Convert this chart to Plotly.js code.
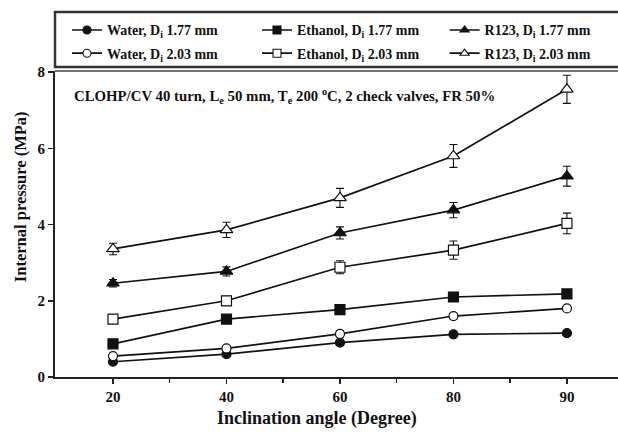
<!DOCTYPE html>
<html>
<head>
<meta charset="utf-8">
<script src="https://cdn.plot.ly/plotly-3.0.1.min.js"></script>
<style>html,body{margin:0;padding:0;background:#fff}#chart{width:618px;height:432px}</style>
</head>
<body>
<div id="chart"></div>
<script>
var angles = ["20", "40", "60", "80", "90"];
var waterSmall = [0.40, 0.60, 0.90, 1.12, 1.15];
var waterSmallErr = [0.05, 0.05, 0.06, 0.06, 0.06];
var waterLarge = [0.55, 0.75, 1.13, 1.60, 1.80];
var waterLargeErr = [0.05, 0.05, 0.08, 0.07, 0.07];
var ethanolSmall = [0.87, 1.52, 1.77, 2.10, 2.18];
var ethanolSmallErr = [0.06, 0.07, 0.08, 0.08, 0.08];
var ethanolLarge = [1.52, 2.00, 2.88, 3.33, 4.03];
var ethanolLargeErr = [0.08, 0.12, 0.17, 0.24, 0.27];
var r123Small = [2.46, 2.77, 3.78, 4.38, 5.27];
var r123SmallErr = [0.10, 0.12, 0.16, 0.20, 0.26];
var r123Large = [3.36, 3.86, 4.70, 5.80, 7.55];
var r123LargeErr = [0.15, 0.20, 0.25, 0.30, 0.37];
var names = [
  "Water, D<sub>i</sub> 1.77 mm", "Water, D<sub>i</sub> 2.03 mm",
  "Ethanol, D<sub>i</sub> 1.77 mm", "Ethanol, D<sub>i</sub> 2.03 mm",
  "R123, D<sub>i</sub> 1.77 mm", "R123, D<sub>i</sub> 2.03 mm"
];
var yTitle = "Internal pressure (MPa)";
var xTitle = "Inclination angle (Degree)";
var note = "CLOHP/CV 40 turn, L<sub>e</sub> 50 mm, T<sub>e</sub> 200 <sup>o</sup>C, 2 check valves, FR 50%";
var xIdx = angles.map(function(_, i){ return i; });

var ink = "#111";
function tr(y, err, symbol, filled, size) {
  return {
    x: xIdx, y: y, type: "scatter", mode: "lines+markers", showlegend: false,
    line: {color: ink, width: 1.7},
    marker: {symbol: symbol, size: size, color: filled ? ink : "#fff", line: {color: ink, width: 1.2}},
    error_y: {type: "data", array: err, visible: true, color: ink, thickness: 1.1, width: 4}
  };
}
function leg(name, symbol, filled, legendId, group) {
  return {
    x: [null], y: [null], type: "scatter", mode: "lines+markers", name: name,
    legend: legendId, legendgroup: group, showlegend: true,
    line: {color: ink, width: 1.7},
    marker: {symbol: symbol, size: 8, color: filled ? ink : "#fff", line: {color: ink, width: 1.1}}
  };
}
var data = [
  tr(waterSmall, waterSmallErr, "circle", true, 9),
  tr(waterLarge, waterLargeErr, "circle", false, 9),
  tr(ethanolSmall, ethanolSmallErr, "square", true, 10),
  tr(ethanolLarge, ethanolLargeErr, "square", false, 10),
  tr(r123Small, r123SmallErr, "triangle-up", true, 11),
  tr(r123Large, r123LargeErr, "triangle-up", false, 11),
  leg(names[0], "circle", true, "legend", "a"),
  leg(names[1], "circle", false, "legend", "b"),
  leg(names[2], "square", true, "legend2", "c"),
  leg(names[3], "square", false, "legend2", "d"),
  leg(names[4], "triangle-up", true, "legend3", "e"),
  leg(names[5], "triangle-up", false, "legend3", "f")
];
var fam = "Liberation Serif, Times New Roman, serif";
function legendCfg(x) {
  return {
    orientation: "v", x: x, xanchor: "left", y: 1.185, yanchor: "top",
    font: {family: fam, size: 14, color: ink, weight: "bold"},
    bgcolor: "rgba(0,0,0,0)", borderwidth: 0, tracegroupgap: 2, itemwidth: 30, traceorder: "grouped"
  };
}
var layout = {
  width: 618, height: 432,
  margin: {l: 55, r: 0, t: 71, b: 55},
  paper_bgcolor: "#fff", plot_bgcolor: "#fff",
  font: {family: fam, color: ink, size: 14},
  showlegend: true,
  legend: legendCfg(0.0213),
  legend2: legendCfg(0.3588),
  legend3: legendCfg(0.692),
  xaxis: {
    range: [-0.511, 4.45], tickmode: "array", tickvals: xIdx, ticktext: angles,
    showline: true, linecolor: "#222", linewidth: 2,
    ticks: "outside", ticklen: 5, tickwidth: 1.5, tickcolor: "#222",
    minor: {tickmode: "array", tickvals: [0.5, 1.5, 2.5, 3.5], ticks: "outside", ticklen: 4, tickwidth: 1.5, tickcolor: "#222"},
    showgrid: false, zeroline: false,
    tickfont: {family: fam, size: 15, color: ink, weight: "bold"}
  },
  yaxis: {
    range: [0, 8.03], tickmode: "array", tickvals: [0, 2, 4, 6, 8],
    showline: true, linecolor: "#222", linewidth: 2,
    ticks: "outside", ticklen: 5, tickwidth: 1.5, tickcolor: "#222",
    showgrid: false, zeroline: false,
    tickfont: {family: fam, size: 15, color: ink, weight: "bold"}
  },
  shapes: [
    {type: "rect", xref: "paper", yref: "paper", x0: 0, x1: 1.05, y0: 1.013, y1: 1.193,
     line: {color: "#333", width: 2.5}, fillcolor: "rgba(0,0,0,0)", layer: "above"},
    {type: "line", xref: "paper", yref: "paper", x0: 0, x1: 1, y0: 1, y1: 1,
     line: {color: "#444", width: 1.5}, layer: "above"}
  ],
  annotations: [
    {xref: "paper", yref: "paper", x: 0.030, y: 0.918, xanchor: "left", yanchor: "middle", showarrow: false,
     text: note, font: {family: fam, size: 14.8, color: ink, weight: "bold"}},
    {xref: "paper", yref: "paper", x: 0.4645, y: -0.134, xanchor: "center", yanchor: "middle", showarrow: false,
     text: xTitle, font: {family: fam, size: 18, color: ink, weight: "bold"}},
    {xref: "paper", yref: "paper", x: -0.062, y: 0.588, xanchor: "center", yanchor: "middle", showarrow: false,
     textangle: -90, text: yTitle, font: {family: fam, size: 16.5, color: ink, weight: "bold"}}
  ]
};
Plotly.newPlot("chart", data, layout, {displayModeBar: false, staticPlot: true});
</script>
</body>
</html>
